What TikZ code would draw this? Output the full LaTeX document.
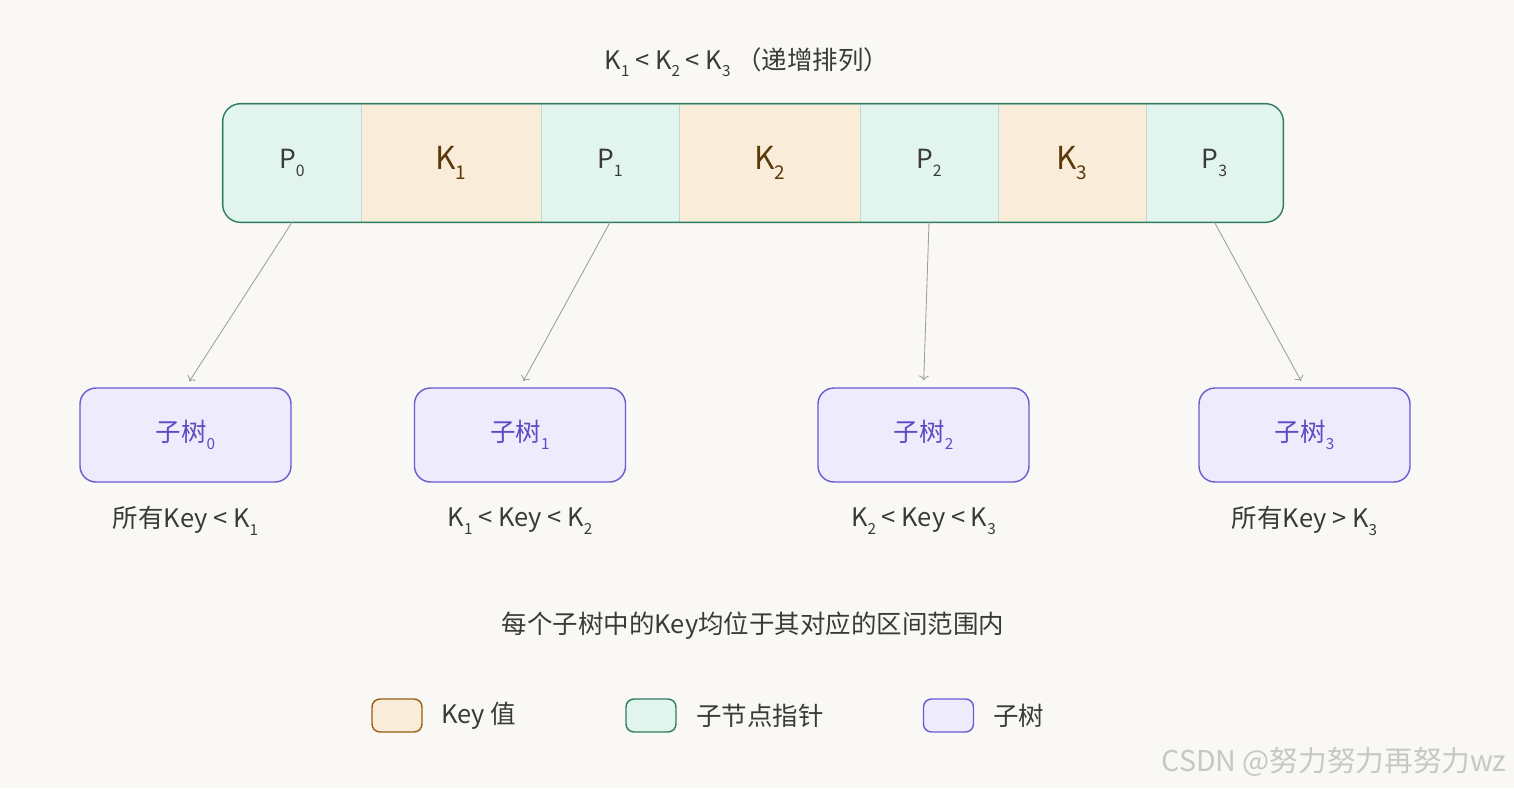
\documentclass[tikz,border=0pt]{standalone}
\usepackage{fontspec}
\setmainfont{Noto Sans CJK SC}
\usetikzlibrary{arrows.meta}

\definecolor{bgcol}{HTML}{F9F8F4}
\definecolor{pfill}{HTML}{E2F4EE}
\definecolor{kfill}{HTML}{F9EDDA}
\definecolor{tfill}{HTML}{EDEBFC}
\definecolor{pdraw}{HTML}{2E7D5E}
\definecolor{kdraw}{HTML}{9A5B12}
\definecolor{tdraw}{HTML}{6A5BD2}
\definecolor{sepline}{HTML}{C2D9CE}
\definecolor{txt}{HTML}{3A3A3A}
\definecolor{ktxt}{HTML}{5A3A0A}
\definecolor{ttxt}{HTML}{5B4BC4}
\definecolor{linkcol}{HTML}{A0A0A0}

% small, lowered index
\newcommand{\lowsub}[1]{\raisebox{-0.55ex}{\scalebox{0.6}{#1}}}

\begin{document}
\begin{tikzpicture}[
    pcell/.style={rectangle, fill=pfill, draw=sepline, minimum height=2.36cm, inner sep=0pt, text=txt, font=\fontsize{15}{18}\selectfont},
    kcell/.style={rectangle, fill=kfill, draw=sepline, minimum height=2.36cm, inner sep=0pt, text=ktxt, font=\fontsize{18}{21}\selectfont},
    subtree/.style={rectangle, rounded corners=0.32cm, fill=tfill, draw=tdraw, line width=0.8pt, minimum width=4.22cm, minimum height=1.88cm, text=ttxt, font=\fontsize{14.5}{17}\selectfont},
    rangelabel/.style={text=txt, font=\fontsize{14.5}{17}\selectfont},
    link/.style={->, draw=linkcol, line width=0.5pt, shorten >=4pt},
    legendbox/.style={rectangle, rounded corners=0.16cm, minimum width=1cm, minimum height=0.66cm, line width=0.8pt},
]
    % Background
    \fill[bgcol] (0,0) rectangle (30.28,-15.76);
    \useasboundingbox (0,0) rectangle (30.28,-15.76);

    % Ordering of the keys
    \node[rangelabel] (order) at (14.94,-1.24) {K\lowsub{1} < K\lowsub{2} < K\lowsub{3} （递增排列）};

    % Node with pointers and keys
    \begin{scope}
        \clip[rounded corners=0.36cm] (4.46,-2.08) rectangle (25.66,-4.44);
        \node[pcell, minimum width=2.76cm] (p0) at (5.84,-3.26) {P\lowsub{0}};
        \node[kcell, minimum width=3.60cm] (k1) at (9.02,-3.26) {K\lowsub{1}};
        \node[pcell, minimum width=2.76cm] (p1) at (12.20,-3.26) {P\lowsub{1}};
        \node[kcell, minimum width=3.62cm] (k2) at (15.39,-3.26) {K\lowsub{2}};
        \node[pcell, minimum width=2.76cm] (p2) at (18.58,-3.26) {P\lowsub{2}};
        \node[kcell, minimum width=2.96cm] (k3) at (21.44,-3.26) {K\lowsub{3}};
        \node[pcell, minimum width=2.74cm] (p3) at (24.29,-3.26) {P\lowsub{3}};
    \end{scope}
    \draw[pdraw, line width=0.8pt, rounded corners=0.36cm] (p0.north west) rectangle (p3.south east);

    % Subtrees
    \node[subtree] (t0) at (3.71,-8.70) {子树\lowsub{0}};
    \node[subtree] (t1) at (10.40,-8.70) {子树\lowsub{1}};
    \node[subtree] (t2) at (18.47,-8.70) {子树\lowsub{2}};
    \node[subtree] (t3) at (26.09,-8.70) {子树\lowsub{3}};

    \draw[link] (p0.south) -- (t0.north);
    \draw[link] (p1.south) -- (t1.north);
    \draw[link] (p2.south) -- (t2.north);
    \draw[link] (p3.south) -- (t3.north);

    % Key ranges
    \node[rangelabel] (r0) at (3.71,-10.42) {所有Key < K\lowsub{1}};
    \node[rangelabel] (r1) at (10.40,-10.42) {K\lowsub{1} < Key < K\lowsub{2}};
    \node[rangelabel] (r2) at (18.47,-10.42) {K\lowsub{2} < Key < K\lowsub{3}};
    \node[rangelabel] (r3) at (26.09,-10.42) {所有Key > K\lowsub{3}};

    \node[rangelabel] (note) at (15.06,-12.52) {每个子树中的Key均位于其对应的区间范围内};

    % Legend
    \node[legendbox, fill=kfill, draw=kdraw] (lk) at (7.94,-14.31) {};
    \node[rangelabel, anchor=west] (lktext) at (8.70,-14.31) {Key 值};
    \node[legendbox, fill=pfill, draw=pdraw] (lp) at (13.02,-14.31) {};
    \node[rangelabel, anchor=west] (lptext) at (13.80,-14.31) {子节点指针};
    \node[legendbox, fill=tfill, draw=tdraw] (lt) at (18.97,-14.31) {};
    \node[rangelabel, anchor=west] (lttext) at (19.74,-14.31) {子树};

    \node[text=black!22, font=\fontsize{16.3}{19}\selectfont] (mark) at (26.68,-15.24) {CSDN @努力努力再努力wz};
\end{tikzpicture}
\end{document}
